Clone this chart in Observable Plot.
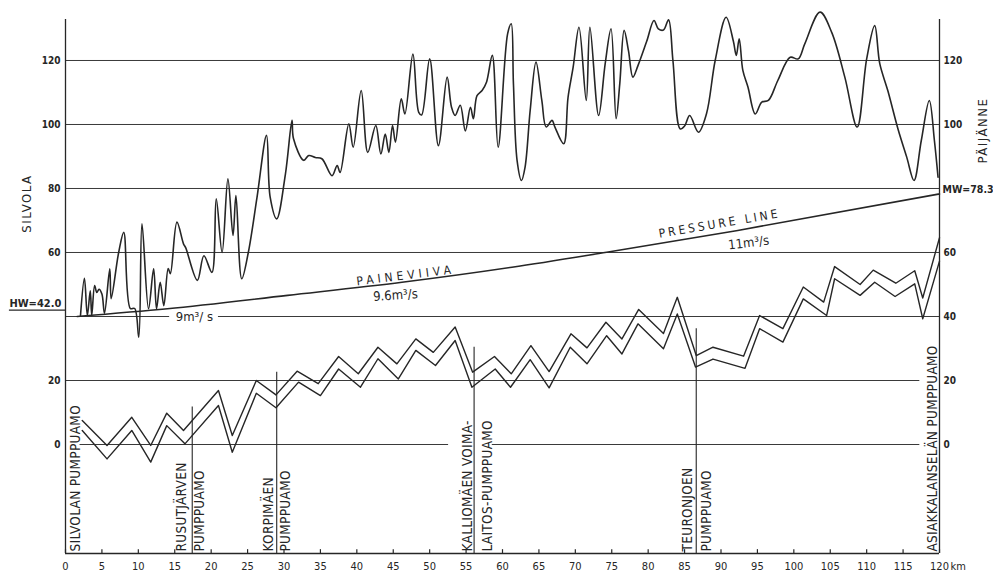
<!DOCTYPE html>
<html><head><meta charset="utf-8">
<script src="https://cdn.jsdelivr.net/npm/d3@7"></script>
<script src="https://cdn.jsdelivr.net/npm/@observablehq/plot@0.6"></script>
<style>body{margin:0;background:#fff} svg{display:block}</style>
</head><body><div id="chart"></div>
<script>
// Ground profile (km, m)
const terrainKm = [2.06,2.6,3.0,3.4,3.6,4.0,4.3,4.6,5.0,5.35,6.08,6.27,7.3,8.0,8.9,9.5,10.06,10.5,11.4,12.1,12.5,13.0,13.5,14.1,14.4,15.3,16.2,16.5,18.1,19.0,20.1,20.7,21.5,22.3,23.0,23.4,24.2,25.1,26.3,27.6,28.1,29.0,30.2,31.1,31.3,32.7,33.4,34.3,35.2,36.6,37.3,37.7,38.9,39.5,40.6,41.5,42.6,43.3,43.9,44.4,44.9,45.3,46.1,46.6,47.7,48.5,48.9,50.0,51.2,52.4,53.0,53.5,54.2,54.9,55.6,56.0,56.5,57.2,57.8,58.6,59.4,60.7,61.2,61.5,62.0,62.6,63.1,63.8,64.6,65.4,66.0,66.8,67.2,68.4,69.0,69.7,70.5,71.5,72.0,73.2,74.1,74.9,75.6,76.1,76.7,77.3,77.9,78.6,79.8,80.8,81.4,82.1,82.8,83.4,84.4,85.0,85.7,86.9,88.0,89.2,90.7,91.7,92.1,92.5,93.0,93.7,94.7,95.6,96.5,97.8,99.5,100.6,101.5,103.6,105.2,107.0,108.7,110.0,111.1,111.8,112.9,114.3,115.5,116.5,117.5,118.6,119.3,119.8];
const terrainElev = [40.3,51.9,40.3,48,40.3,49.7,47.5,48.5,47,41,54.9,45.6,60,66.3,42.5,42.5,33.5,69,42.4,54.9,42.4,50.7,43.4,55,53.4,69.5,62.7,61.5,51.3,59,53.8,76.8,60,83,65.3,77.8,51.8,60,77.3,96.6,77.3,70.5,84.6,101.3,95.6,88.8,90.3,89.7,89.3,84,87.2,85,100.2,92.9,110.6,91.3,99.7,90.8,97,91.3,99.7,94.5,108,103.3,122,103.8,103,120.5,93.4,114.8,105.4,102.8,106,98,105.4,101.8,109,110.6,113.2,121.6,92.9,128.3,131.5,112.8,88.8,82.5,86.7,104.4,119.5,107.5,99.2,101.3,99.2,94,108.5,117.9,130.4,107.5,130.4,102.8,119,129.9,101.8,112.7,129.4,123,114.8,118.4,126,132.5,129.9,129.5,132.7,120,98.6,99.5,102.8,97.6,103.3,120,133.5,126,121.6,126.8,116.9,111.7,103.3,107,107.5,113.75,121,120.5,125.2,135.1,128.8,114.8,99.2,120.5,130.9,119,110.6,98.6,89.8,82.5,95,107.5,95,83.5];

// Tunnel crown and invert (km, m)
const tunnelTopKm = [2.3,5.7,9.1,11.7,13.9,16.2,21.0,22.9,26.2,28.9,31.8,34.7,37.5,40.2,42.9,45.5,48.1,50.5,53.5,55.9,58.9,61.2,63.9,66.4,69.4,71.6,74.2,76.4,78.7,82.1,84.0,86.6,88.9,93.1,95.3,98.5,101.3,104.1,105.6,109.1,110.9,114.0,116.6,117.7,120];
const tunnelTopElev = [7.5,-0.3,8.5,-0.3,9.8,4.4,16.9,2.8,20,15.5,22.9,19,27.5,22.1,30.4,25.2,33,28.8,36.7,22.6,27.5,22.1,30.9,22.8,34.6,30.2,38.2,33,42.2,34.7,46,27.8,30.4,27.6,40.3,36.2,49.2,44.5,55.6,50,54.5,50.4,54.3,45.8,64.6];
const tunnelBotKm = [2.3,5.7,9.1,11.7,13.9,16.4,21.0,22.9,26.2,28.9,32.0,35.0,37.5,40.5,42.9,45.7,48.1,50.8,53.5,55.8,59.0,61.1,63.8,66.4,69.3,71.6,74.3,76.4,78.6,82.1,84.0,86.5,88.9,93.3,95.3,98.5,101.3,104.5,105.6,109.1,111.1,113.9,116.6,117.7,120];
const tunnelBotElev = [4.4,-4.5,4.4,-5.5,5.9,0.2,12.2,-2.4,16,11.5,19.5,15.3,23.6,17.9,26.8,20.5,29.4,24.7,32.5,17.9,23.6,17.9,26.5,17.7,30.4,25.2,34,28.3,37.7,29.9,40.8,24.2,26.7,23.8,36.2,32,45.5,40.3,51.8,46.6,50.7,46.25,50.2,39.3,57.3];

// Pressure line (km, m)
const pressureKm = [1.6,14,30.5,46.2,61.3,74.3,92.3,120];
const pressureElev = [40,42.4,46.6,50.7,55.4,60.1,66.9,78.3];

// Pumping stations
const pumpKm = [17.4,29.0,56.1,86.6];
const pumpTop = [11.7,22.6,30.4,36.2];
const stationLabelKm = [1.4,16.0,18.4,27.9,30.2,55.2,57.9,85.4,88.1,119.0];
const stationLabels = ["SILVOLAN PUMPPUAMO","RUSUTJÄRVEN","PUMPPUAMO","KORPIMÄEN","PUMPPUAMO","KALLIOMÄEN VOIMA-","LAITOS-PUMPPUAMO","TEURONJOEN","PUMPPUAMO","ASIAKKALANSELÄN PUMPPUAMO"];

// Grid lines (level, from km, to km)
const gridLevels = [120,100,80,60,40,40,20,0,0];
const gridFrom = [0,0,0,0,0,21.0,0,2.0,58.6];
const gridTo = [120,120,120,120,14.3,120,117.3,52.6,117.3];

// Ticks
const xTicks = [0,5,10,15,20,25,30,35,40,45,50,55,60,65,70,75,80,85,90,95,100,105,110,115,120];
const leftTicks = [0,20,60,80,100,120];
const rightTicks = [0,20,40,60,100,120];
const yDomain = [-34.06,132.81];

// Annotations
const hwLevel = 42.0, mwLevel = 78.3;
const flowLabels = ["9m³/ s","9.6m³/s","11m³/s"];
const flowKm = [17.7,45.3,93.8];
const flowElev = [40,46.6,63];
const flowRotate = [0,-4,-7];
const lineNames = ["PAINEVIIVA","PRESSURE LINE"];
const lineNameKm = [46.7,89.8];
const lineNameElev = [52.8,69];
const lineNameRotate = [-7,-9.6];

const ink = "#262626";
const terrain = terrainKm.map((k,i)=>({km:k, elev:terrainElev[i]}));
const tTop = tunnelTopKm.map((k,i)=>({km:k, elev:tunnelTopElev[i]}));
const tBot = tunnelBotKm.map((k,i)=>({km:k, elev:tunnelBotElev[i]}));
const pressure = pressureKm.map((k,i)=>({km:k, elev:pressureElev[i]}));
const pumps = pumpKm.map((k,i)=>({km:k, top:pumpTop[i]}));
const stations = stationLabelKm.map((k,i)=>({km:k, text:stationLabels[i]}));
const grid = gridLevels.map((g,i)=>({y:g, x1:gridFrom[i], x2:gridTo[i]}));
const flows = flowLabels.map((t,i)=>({text:t, km:flowKm[i], elev:flowElev[i], r:flowRotate[i]}));
const names = lineNames.map((t,i)=>({text:t, km:lineNameKm[i], elev:lineNameElev[i], r:lineNameRotate[i]}));

const font = "'DejaVu Sans Condensed','Liberation Sans Narrow','DejaVu Sans',sans-serif";

const chart = Plot.plot({
  width: 993, height: 574,
  marginLeft: 65, marginRight: 54, marginTop: 19, marginBottom: 21,
  style: {fontFamily: font, fontSize: "11px", color: ink, background: "#fff"},
  x: {domain: [0,120]},
  y: {domain: yDomain},
  marks: [
    Plot.ruleY(grid, {y: "y", x1: "x1", x2: "x2", stroke: "#3a3a3a", strokeWidth: 1}),
    Plot.ruleX([0,120], {y1: yDomain[0], y2: yDomain[1], stroke: ink, strokeWidth: 1.3}),
    Plot.ruleY([yDomain[0]], {x1: 0, x2: 120, stroke: ink, strokeWidth: 1.3}),
    Plot.ruleX(xTicks, {y1: yDomain[0], y2: yDomain[0] + 1.2, stroke: ink, strokeWidth: 1.2}),
    Plot.ruleX(pumps, {x: "km", y1: yDomain[0], y2: "top", stroke: ink, strokeWidth: 1.1}),
    Plot.line(terrain, {x: "km", y: "elev", curve: "catmull-rom", stroke: ink, strokeWidth: 1.6}),
    Plot.line(tTop, {x: "km", y: "elev", stroke: ink, strokeWidth: 1.4}),
    Plot.line(tBot, {x: "km", y: "elev", stroke: ink, strokeWidth: 1.4}),
    Plot.line(pressure, {x: "km", y: "elev", curve: "monotone-x", stroke: ink, strokeWidth: 1.6}),
    Plot.text(stations, {x: "km", y: yDomain[0], dy: -2, text: "text", rotate: -90, textAnchor: "start", lineAnchor: "middle", fontSize: 13.5, fill: ink}),
    Plot.text(flows, {x: "km", y: "elev", text: "text", rotate: "r", fontSize: 13, fill: ink}),
    Plot.text(names, {x: "km", y: "elev", text: "text", rotate: "r", fontSize: 12, fill: ink}),
    Plot.ruleY([hwLevel], {x1: -7.7, x2: 0, stroke: ink, strokeWidth: 1.2}),
    Plot.text(["HW=42.0"], {x: -7.7, y: hwLevel, dy: -7, textAnchor: "start", fontSize: 11, fontWeight: "bold", fill: ink}),
    Plot.text(["MW=78.3"], {x: 120, y: mwLevel, dx: 3, dy: -4, textAnchor: "start", fontSize: 10.5, fontWeight: "bold", fill: ink}),
    Plot.text(["SILVOLA"], {x: -5.35, y: 75.3, rotate: -90, fontSize: 13, fill: ink}),
    Plot.text(["PÄIJÄNNE"], {x: 125.9, y: 98.1, rotate: -90, fontSize: 13, fill: ink}),
    Plot.axisY({anchor: "left", ticks: leftTicks, tickSize: 0, tickPadding: 5, label: null, fontSize: 10, fontWeight: "bold"}),
    Plot.axisY({anchor: "right", ticks: rightTicks, tickSize: 0, tickPadding: 4, label: null, fontSize: 10, fontWeight: "bold"}),
    Plot.axisX({ticks: xTicks, tickSize: 0, tickPadding: 9, label: null, fontSize: 11}),
    Plot.text(["km"], {x: 120, y: yDomain[0], dx: 11, dy: 13, textAnchor: "start", fontSize: 11, fill: ink})
  ]
});

// letter spacing of the drafted lettering
const spacing = {"PAINEVIIVA": "4px", "PRESSURE LINE": "3px", "SILVOLA": "1.5px", "PÄIJÄNNE": "1.5px"};
stationLabels.forEach(t => { spacing[t] = "0.3px"; });
d3.select(chart).selectAll("text").each(function() {
  const t = this.textContent;
  if (spacing[t] != null && this.childElementCount === 0) this.setAttribute("letter-spacing", spacing[t]);
});
document.getElementById("chart").append(chart);
</script>
</body></html>
